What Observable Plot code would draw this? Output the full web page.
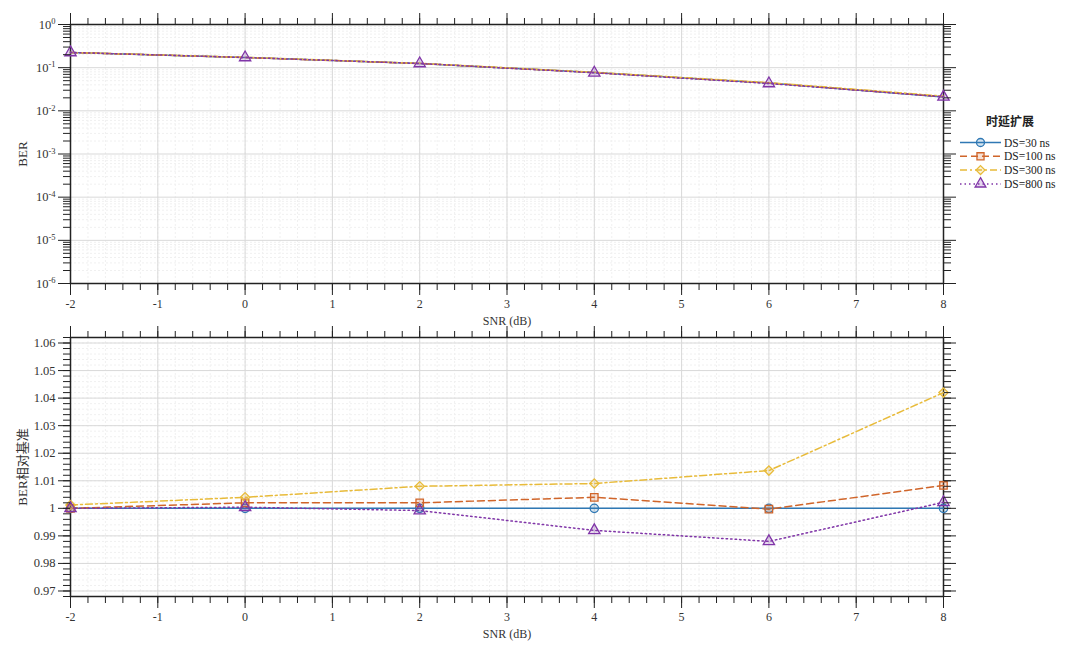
<!DOCTYPE html>
<html><head><meta charset="utf-8">
<script src="https://cdn.jsdelivr.net/npm/d3@7"></script>
<script src="https://cdn.jsdelivr.net/npm/@observablehq/plot@0.6"></script>
<style>
body{margin:0;background:#fff;}
#wrap{position:relative;width:1080px;height:650px;overflow:hidden;}
#wrap svg{display:block;}
#wrap svg, #wrap svg text{font-family:'Liberation Serif','Times New Roman','Noto Sans CJK SC',serif !important;}
#wrap svg text.cjk{font-family:'Noto Sans CJK SC',sans-serif !important;}
#legend{position:absolute;left:940px;top:112px;}
</style></head><body><div id="wrap"></div>
<script>
// ---- data ----
const snr = [-2, 0, 2, 4, 6, 8];
const seriesNames = ["DS=30 ns", "DS=100 ns", "DS=300 ns", "DS=800 ns"];
const ber30  = [0.225, 0.172, 0.125, 0.077, 0.044, 0.0210];
const ber100 = [0.225, 0.172, 0.125, 0.077, 0.044, 0.0212];
const ber300 = [0.225, 0.173, 0.126, 0.078, 0.045, 0.0219];
const ber800 = [0.225, 0.172, 0.125, 0.076, 0.043, 0.0211];
const rel30  = [1.000, 1.000, 1.000, 1.000, 1.000, 1.000];
const rel100 = [1.000, 1.002, 1.002, 1.004, 0.9997, 1.0083];
const rel300 = [1.0012, 1.004, 1.008, 1.009, 1.0137, 1.042];
const rel800 = [1.000, 1.0004, 0.9992, 0.992, 0.988, 1.0022];
const xTicks = [-2, -1, 0, 1, 2, 3, 4, 5, 6, 7, 8];
const berTicks = [1e-6, 1e-5, 1e-4, 1e-3, 1e-2, 1e-1, 1];
const relTicks = [0.97, 0.98, 0.99, 1.00, 1.01, 1.02, 1.03, 1.04, 1.05, 1.06];
const legendTitle = "时延扩展";
const xLabel = "SNR (dB)";
const yLabelTop = "BER";
const yLabelBottom = "BER相对基准";

// ---- styles ----
const colors = ["#2f78b4", "#d0652a", "#e8bb3a", "#8035a8"];
const dashes = [null, "7,4", "7,3,2,3", "1.5,3"];
const symbols = ["circle", "square", "diamond2", "triangle"];
const d3symbols = [d3.symbolCircle, d3.symbolSquare, d3.symbolDiamond2, d3.symbolTriangle];

const berSeries = [ber30, ber100, ber300, ber800];
const relSeries = [rel30, rel100, rel300, rel800];

const xMinor = d3.range(-2, 8.0001, 0.2).map(v => +v.toFixed(2));
const berMinor = [];
for (let k = -6; k < 0; k++) for (let m = 2; m <= 9; m++) berMinor.push(m * Math.pow(10, k));
const relMinor = d3.range(0.968, 1.0621, 0.002).map(v => +v.toFixed(3));

const blank = () => "";

function seriesMarks(valuesList, markerSeries) {
  const marks = [];
  valuesList.forEach((vals, i) => {
    const rows = snr.map((x, j) => ({x, y: vals[j]}));
    marks.push(Plot.line(rows, {x: "x", y: "y", stroke: colors[i], strokeWidth: 1.5, strokeDasharray: dashes[i]}));
  });
  valuesList.forEach((vals, i) => {
    if (!markerSeries.includes(i)) return;
    const rows = snr.map((x, j) => ({x, y: vals[j]}));
    marks.push(Plot.dot(rows, {x: "x", y: "y", symbol: symbols[i], r: 4.2, stroke: colors[i], strokeWidth: 1.3, fill: colors[i], fillOpacity: 0.2}));
  });
  return marks;
}

function makePlot({height, marginTop, marginBottom, y, yMajor, yMinor, yFormat, values, yLabel, markerSeries}) {
  return Plot.plot({
    width: 1080, height, marginTop, marginBottom, marginLeft: 70, marginRight: 137,
    style: {fontSize: "12px", color: "#333", background: "white", overflow: "visible"},
    x: {domain: [-2, 8]},
    y,
    marks: [
      Plot.gridX(xMinor, {stroke: "#f0f0f0", strokeOpacity: 1, strokeDasharray: "2,2"}),
      Plot.gridY(yMinor, {stroke: "#f0f0f0", strokeOpacity: 1, strokeDasharray: "2,2"}),
      Plot.gridX(xTicks, {stroke: "#d9d9d9", strokeOpacity: 1}),
      Plot.gridY(yMajor, {stroke: "#d9d9d9", strokeOpacity: 1}),
      Plot.frame({stroke: "#222", strokeWidth: 1.5}),
      ...seriesMarks(values, markerSeries),
      Plot.axisX(xTicks, {anchor: "bottom", tickSize: 12, tickPadding: 4, stroke: "#222", fontSize: 12, tickFormat: d => String(d), label: null}),
      Plot.axisX(xMinor, {anchor: "bottom", tickSize: 7, stroke: "#222", tickFormat: blank, label: null}),
      Plot.axisX(xTicks, {anchor: "top", tickSize: 12, stroke: "#222", tickFormat: blank, label: null}),
      Plot.axisX(xMinor, {anchor: "top", tickSize: 7, stroke: "#222", tickFormat: blank, label: null}),
      Plot.axisY(yMajor, {anchor: "left", tickSize: 12, tickPadding: 3, stroke: "#222", fontSize: 12.5, tickFormat: yFormat, label: null}),
      Plot.axisY(yMinor, {anchor: "left", tickSize: 7, stroke: "#222", tickFormat: blank, label: null}),
      Plot.axisY(yMajor, {anchor: "right", tickSize: 12, stroke: "#222", tickFormat: blank, label: null}),
      Plot.axisY(yMinor, {anchor: "right", tickSize: 7, stroke: "#222", tickFormat: blank, label: null}),
      Plot.text([xLabel], {frameAnchor: "bottom", textAnchor: "middle", lineAnchor: "middle", dy: 38, fontSize: 12, fill: "#333"}),
      Plot.text([yLabel], {frameAnchor: "left", textAnchor: "middle", lineAnchor: "middle", dx: -48, rotate: -90, fontSize: 13, fill: "#333"})
    ]
  });
}

const topPlot = makePlot({
  height: 325, marginTop: 24, marginBottom: 42,
  y: {type: "log", domain: [1e-6, 1]},
  yMajor: berTicks, yMinor: berMinor,
  yFormat: d => "10^" + Math.round(Math.log10(d)),
  values: berSeries, yLabel: yLabelTop, markerSeries: [3]
});
const bottomPlot = makePlot({
  height: 325, marginTop: 12, marginBottom: 54,
  y: {domain: [0.968, 1.062]},
  yMajor: relTicks, yMinor: relMinor,
  yFormat: d => String(+d.toFixed(2)),
  values: relSeries, yLabel: yLabelBottom, markerSeries: [0, 1, 2, 3]
});

const wrap = document.getElementById("wrap");
wrap.appendChild(topPlot);
wrap.appendChild(bottomPlot);

// superscript exponents on log ticks
d3.select(topPlot).selectAll("text").each(function() {
  const t = this.textContent;
  const m = /^10\^(-?\d+)$/.exec(t);
  if (m) {
    const s = d3.select(this);
    s.text("");
    s.append("tspan").text("10");
    s.append("tspan").attr("dy", "-0.5em").attr("font-size", "8.5px").text(m[1]);
  }
});

// legend
const lg = d3.select(wrap).append("svg").attr("id", "legend").attr("width", 140).attr("height", 85);
lg.append("text").attr("class", "cjk").attr("x", 70).attr("y", 14).attr("text-anchor", "middle")
  .attr("font-weight", "bold").attr("font-size", 12)
  .attr("fill", "#222").text(legendTitle);
seriesNames.forEach((name, i) => {
  const yy = 30.5 + i * 13.8;
  const g = lg.append("g");
  g.append("line").attr("x1", 20).attr("x2", 61).attr("y1", yy).attr("y2", yy)
    .attr("stroke", colors[i]).attr("stroke-width", 1.5).attr("stroke-dasharray", dashes[i]);
  g.append("path").attr("d", d3.symbol(d3symbols[i], Math.PI * 16)())
    .attr("transform", `translate(40.5,${yy})`)
    .attr("stroke", colors[i]).attr("stroke-width", 1.3).attr("fill", colors[i]).attr("fill-opacity", 0.2);
  g.append("text").attr("x", 64).attr("y", yy).attr("dy", "0.35em").attr("font-size", 11.5).attr("fill", "#222").text(name);
});
</script></body></html>
